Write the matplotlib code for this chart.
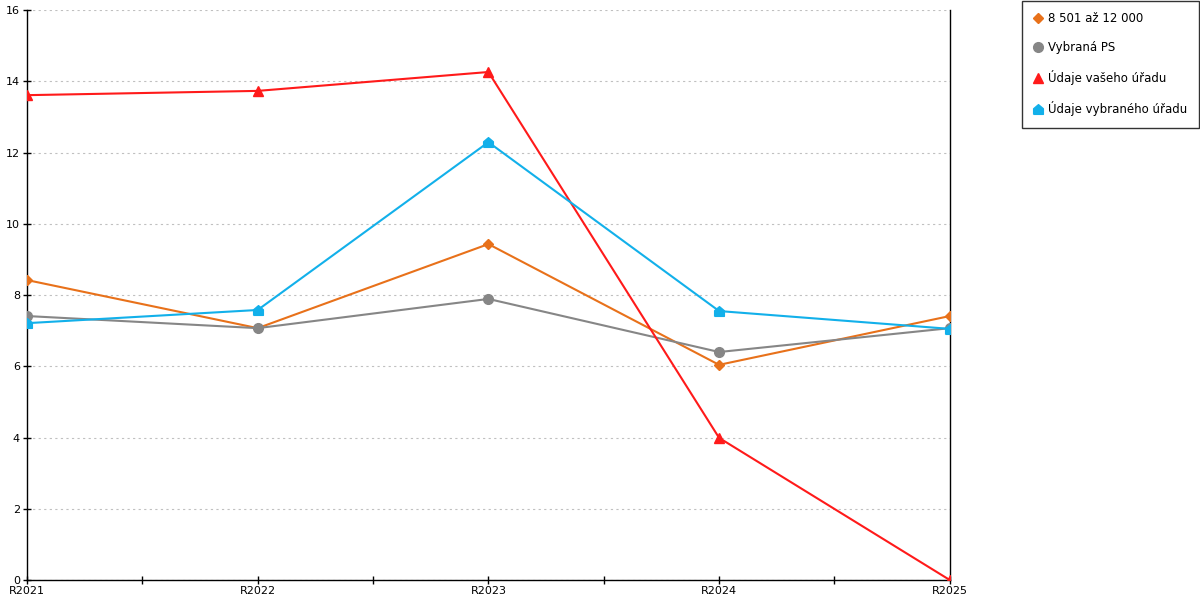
import numpy as np
import matplotlib.pyplot as plt
from matplotlib.ticker import MultipleLocator, FixedLocator

years = ['R2021', 'R2022', 'R2023', 'R2024', 'R2025']
skupina = [8.42, 7.07, 9.43, 6.04, 7.41]
vybrana_ps = [7.41, 7.07, 7.89, 6.40, 7.07]
vas_urad = [13.61, 13.73, 14.26, 3.99, 0.0]
vybrany_urad = [7.21, 7.58, 12.29, 7.55, 7.05]

labels = ['8 501 až 12 000', 'Vybraná PS', 'Údaje vašeho úřadu', 'Údaje vybraného úřadu']

# house-shaped marker for the last series
house = [(-1, -1), (1, -1), (1, 0.15), (0, 1), (-1, 0.15), (-1, -1)]

fig = plt.figure(figsize=(12, 6), dpi=100)
ax = fig.add_axes([0.0225, 0.0333, 0.769, 0.95])

x = np.arange(len(years))
ax.plot(x, skupina, color='#e8711a', lw=1.5, marker='D', ms=5.5, label=labels[0], zorder=3)
ax.plot(x, vybrana_ps, color='#868686', lw=1.5, marker='o', ms=7, label=labels[1], zorder=3)
ax.plot(x, vas_urad, color='#ff1a1a', lw=1.5, marker='^', ms=7.5, label=labels[2], zorder=3)
ax.plot(x, vybrany_urad, color='#12b0ea', lw=1.5, marker=house, ms=7, label=labels[3], zorder=3)

ax.set_xlim(0, len(years) - 1)
ax.set_ylim(0, 16)
ax.set_xticks(x)
ax.set_xticklabels(years)
ax.xaxis.set_minor_locator(FixedLocator(x[:-1] + 0.5))
ax.yaxis.set_major_locator(MultipleLocator(2))
ax.tick_params(axis='both', labelsize=8, direction='inout', length=6, width=1, color='black', pad=1)
ax.tick_params(axis='x', which='minor', direction='inout', length=6, width=1)
ax.tick_params(axis='y', pad=2)

ax.grid(axis='y', ls=(0, (2, 3)), color='#c0c0c0', lw=0.8)
ax.set_axisbelow(True)

ax.spines['top'].set_visible(False)
for s in ['left', 'bottom', 'right']:
    ax.spines[s].set_color('black')
    ax.spines[s].set_linewidth(1)

leg = fig.legend(loc='upper right', bbox_to_anchor=(0.999, 0.999), borderaxespad=0,
                 frameon=True, fancybox=False, edgecolor='black', fontsize=8.5,
                 handlelength=0.7, handletextpad=0.45, labelspacing=1.35, borderpad=1.0)
for h in leg.legend_handles:
    h.set_linestyle('None')
leg.get_frame().set_linewidth(1)

fig.savefig('out.png', dpi=100)
